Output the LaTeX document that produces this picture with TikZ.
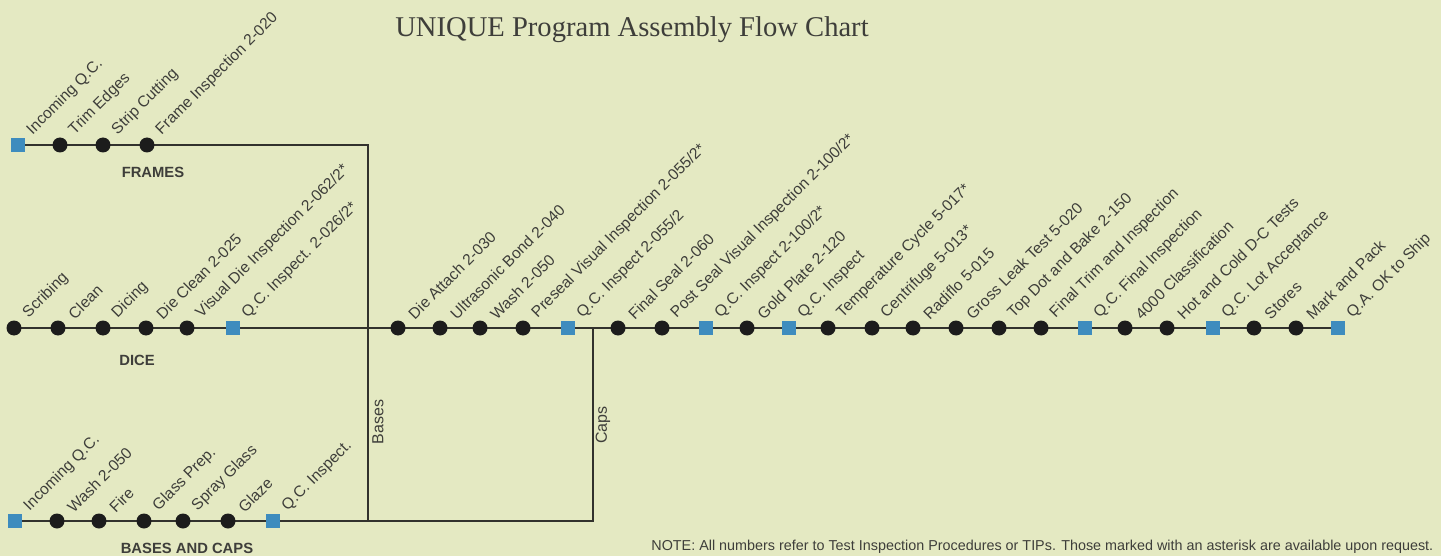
\documentclass[tikz,border=0pt]{standalone}
\usepackage{fontspec}
\setsansfont{Liberation Sans}
\newfontfamily\titlefont{Liberation Serif}
\usetikzlibrary{backgrounds}
\definecolor{bgc}{RGB}{228,233,194}
\definecolor{qcblue}{RGB}{62,140,190}
\definecolor{ink}{RGB}{28,28,28}
\definecolor{linec}{RGB}{50,50,45}
\definecolor{txt}{RGB}{62,62,58}
\newcommand\pnode[5]{%
  \node[#1] (#2) at (#3,#4) {};
  \node[lbl] (#2l) at ([shift={(17,-7)}]#2.center) {#5};}
\begin{document}
\begin{tikzpicture}[x=0.5pt,y=-0.5pt,
  dotn/.style={circle,fill=ink,minimum size=7.5pt,inner sep=0pt},
  qcsq/.style={rectangle,fill=qcblue,minimum size=7pt,inner sep=0pt},
  lbl/.style={font=\sffamily\fontsize{7.8}{9}\selectfont,text=txt,rotate=45,anchor=south west,inner sep=0pt},
  flow/.style={draw=linec,line width=0.75pt},
  sect/.style={font=\sffamily\bfseries\fontsize{7.4}{9}\selectfont,text=txt,inner sep=0pt},
  vlbl/.style={font=\sffamily\fontsize{8}{9}\selectfont,text=txt,rotate=90,inner sep=0pt}]
\useasboundingbox (0,0) rectangle (1441,556);
% title
\node[font=\titlefont\fontsize{14.3}{16}\selectfont,text=txt] (title) at (632,30) {UNIQUE Program Assembly Flow Chart};
% frames row
\pnode{qcsq}{f1}{18}{145}{Incoming Q.C.}
\pnode{dotn}{f2}{60}{145}{Trim Edges}
\pnode{dotn}{f3}{103}{145}{Strip Cutting}
\pnode{dotn}{f4}{147}{145}{Frame Inspection 2-020}
\node[sect] (frames) at (153,172) {FRAMES};
% dice row
\pnode{dotn}{d1}{14}{328}{Scribing}
\pnode{dotn}{d2}{58}{328}{Clean}
\pnode{dotn}{d3}{103}{328}{Dicing}
\pnode{dotn}{d4}{146}{328}{Die Clean 2-025}
\pnode{dotn}{d5}{187}{328}{Visual Die Inspection 2-062/2*}
\pnode{qcsq}{d6}{233}{328}{Q.C. Inspect. 2-026/2*}
\node[sect] (dice) at (137,360) {DICE};
% main line
\pnode{dotn}{m1}{398}{328}{Die Attach 2-030}
\pnode{dotn}{m2}{440}{328}{Ultrasonic Bond 2-040}
\pnode{dotn}{m3}{480}{328}{Wash 2-050}
\pnode{dotn}{m4}{523}{328}{Preseal Visual Inspection 2-055/2*}
\pnode{qcsq}{m5}{568}{328}{Q.C. Inspect 2-055/2}
\pnode{dotn}{m6}{618}{328}{Final Seal 2-060}
\pnode{dotn}{m7}{662}{328}{Post Seal Visual Inspection 2-100/2*}
\pnode{qcsq}{m8}{706}{328}{Q.C. Inspect 2-100/2*}
\pnode{dotn}{m9}{747}{328}{Gold Plate 2-120}
\pnode{qcsq}{m10}{789}{328}{Q.C. Inspect}
\pnode{dotn}{m11}{828}{328}{Temperature Cycle 5-017*}
\pnode{dotn}{m12}{872}{328}{Centrifuge 5-013*}
\pnode{dotn}{m13}{913}{328}{Radiflo 5-015}
\pnode{dotn}{m14}{956}{328}{Gross Leak Test 5-020}
\pnode{dotn}{m15}{999}{328}{Top Dot and Bake 2-150}
\pnode{dotn}{m16}{1041}{328}{Final Trim and Inspection}
\pnode{qcsq}{m17}{1085}{328}{Q.C. Final Inspection}
\pnode{dotn}{m18}{1125}{328}{4000 Classification}
\pnode{dotn}{m19}{1167}{328}{Hot and Cold D-C Tests}
\pnode{qcsq}{m20}{1213}{328}{Q.C. Lot Acceptance}
\pnode{dotn}{m21}{1254}{328}{Stores}
\pnode{dotn}{m22}{1296}{328}{Mark and Pack}
\pnode{qcsq}{m23}{1338}{328}{Q.A. OK to Ship}
% bases row
\pnode{qcsq}{b1}{15}{521}{Incoming Q.C.}
\pnode{dotn}{b2}{57}{521}{Wash 2-050}
\pnode{dotn}{b3}{99}{521}{Fire}
\pnode{dotn}{b4}{144}{521}{Glass Prep.}
\pnode{dotn}{b5}{183}{521}{Spray Glass}
\pnode{dotn}{b6}{228}{521}{Glaze}
\pnode{qcsq}{b7}{273}{521}{Q.C. Inspect.}
\node[sect] (bases) at (187,548) {BASES AND CAPS};
% junctions
\coordinate (jf) at (368,145);
\coordinate (jb) at (368,521);
\coordinate (jc) at (593,521);
\coordinate (jm) at (593,328);
\node[vlbl] (lbases) at (378,422) {Bases};
\node[vlbl] (lcaps) at (603,425) {Caps};
% note
\node[font=\sffamily\fontsize{7.18}{8}\selectfont,text=txt,anchor=west,inner sep=0pt] (note) at (651,547)
  {NOTE: All numbers refer to Test Inspection Procedures or TIPs. Those marked with an asterisk are available upon request.};
\begin{pgfonlayer}{background}
\fill[bgc] (0,0) rectangle (1441,556);
\draw[flow] (f1.center) -- (f2.center) -- (f3.center) -- (f4.center) -- (jf) -- (jb);
\draw[flow] (d1.center) -- (d2.center) -- (d3.center) -- (d4.center) -- (d5.center) -- (d6.center)
  -- (m1.center) -- (m2.center) -- (m3.center) -- (m4.center) -- (m5.center) -- (m6.center)
  -- (m7.center) -- (m8.center) -- (m9.center) -- (m10.center) -- (m11.center) -- (m12.center)
  -- (m13.center) -- (m14.center) -- (m15.center) -- (m16.center) -- (m17.center) -- (m18.center)
  -- (m19.center) -- (m20.center) -- (m21.center) -- (m22.center) -- (m23.center);
\draw[flow] (b1.center) -- (b2.center) -- (b3.center) -- (b4.center) -- (b5.center) -- (b6.center)
  -- (b7.center) -- (jb) -- (jc) -- (jm);
\end{pgfonlayer}
\end{tikzpicture}
\end{document}
